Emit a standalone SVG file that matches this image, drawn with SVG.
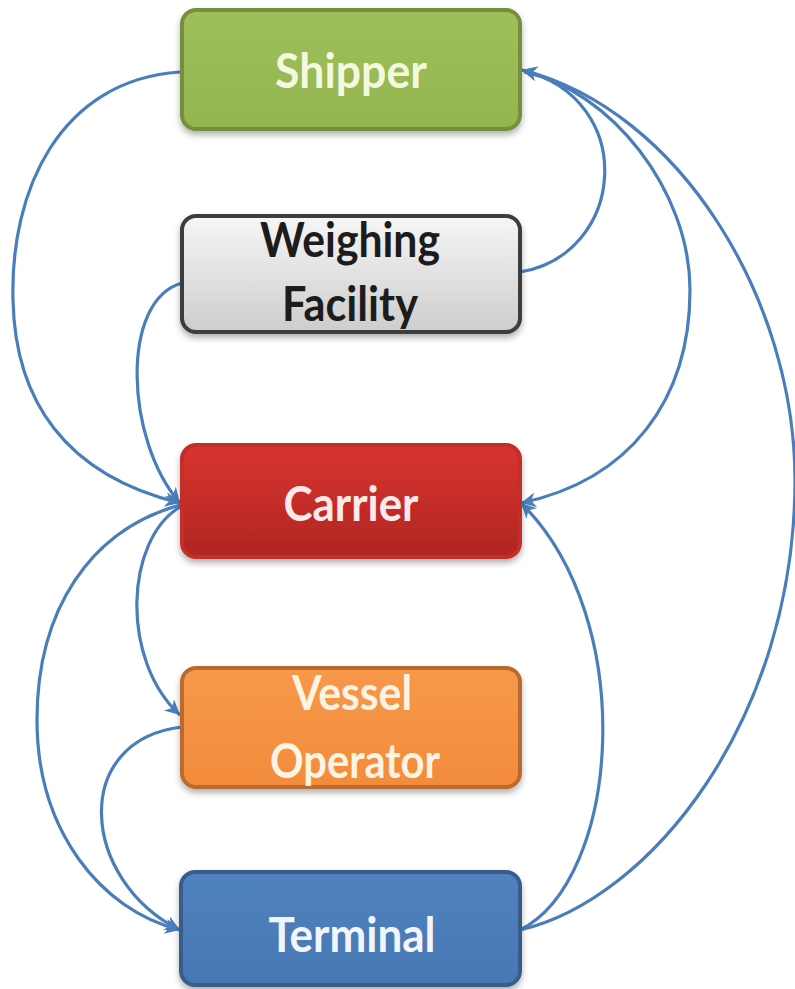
<svg xmlns="http://www.w3.org/2000/svg" width="795" height="989" viewBox="0 0 795 989">
<defs>
<linearGradient id="gGray" x1="0" y1="0" x2="0" y2="1"><stop offset="0" stop-color="#f6f6f6"/><stop offset="1" stop-color="#cdcdcd"/></linearGradient>
<linearGradient id="gRed" x1="0" y1="0" x2="0" y2="1"><stop offset="0" stop-color="#d9342f"/><stop offset="1" stop-color="#b02622"/></linearGradient>
<linearGradient id="gGreen" x1="0" y1="0" x2="0" y2="1"><stop offset="0" stop-color="#9fbf5b"/><stop offset="1" stop-color="#93b54f"/></linearGradient>
<linearGradient id="gOrange" x1="0" y1="0" x2="0" y2="1"><stop offset="0" stop-color="#f8984a"/><stop offset="1" stop-color="#f28c3c"/></linearGradient>
<linearGradient id="gBlue" x1="0" y1="0" x2="0" y2="1"><stop offset="0" stop-color="#4f82bf"/><stop offset="1" stop-color="#4878b3"/></linearGradient>
<filter id="sh" x="-10%" y="-10%" width="120%" height="130%"><feDropShadow dx="0" dy="4" stdDeviation="3" flood-color="#000" flood-opacity="0.3"/></filter>
<marker id="ah" viewBox="0 0 10 10" refX="10" refY="5" markerUnits="userSpaceOnUse" markerWidth="18" markerHeight="15" orient="auto"><path d="M0,0 L10,5 L0,10 L3,5 z" fill="#4a7ebb"/></marker>
</defs>
<style>
.box{stroke-width:4;filter:url(#sh)}
.lbl{font-family:Lato,"Liberation Sans",sans-serif;font-weight:bold;font-size:48px;text-anchor:middle}
.c{fill:none;stroke:#4a7ebb;stroke-width:3.2;marker-end:url(#ah)}
</style>
<g id="connectors">
<path class="c" d="M180,72 C60,80 10,190 13,300 C15,400 65,475 180,503"/>
<path class="c" d="M182,283 C120,300 125,440 180,503"/>
<path class="c" d="M520,272 C625,255 640,100 522,70"/>
<path class="c" d="M524,72 C610,90 690,190 690,290 C690,400 630,480 521,503"/>
<path class="c" d="M520,930 C650,900 795,720 795,480 C795,300 680,110 522,70"/>
<path class="c" d="M520,930 C620,880 640,620 521,503"/>
<path class="c" d="M180,507 C125,540 120,660 180,715"/>
<path class="c" d="M180,505 C90,530 37,610 37,720 C37,830 100,910 180,930"/>
<path class="c" d="M182,727 C70,740 80,880 180,930"/>
</g>
<g id="shipper">
<rect class="box" x="182" y="10" width="338" height="119" rx="14" fill="url(#gGreen)" stroke="#74903e"/>
<text class="lbl" x="351" y="88" fill="#f3f8df" textLength="152" lengthAdjust="spacingAndGlyphs">Shipper</text>
</g>
<g id="weighing">
<rect class="box" x="182" y="216" width="338" height="116" rx="14" fill="url(#gGray)" stroke="#3c3c3c"/>
<text class="lbl" x="350" y="257" fill="#1c1c1c" textLength="180" lengthAdjust="spacingAndGlyphs">Weighing</text>
<text class="lbl" x="350" y="321" fill="#1c1c1c" textLength="136" lengthAdjust="spacingAndGlyphs">Facility</text>
</g>
<g id="carrier">
<rect class="box" x="182" y="445" width="338" height="112" rx="14" fill="url(#gRed)" stroke="#c22e2a" stroke-width="2"/>
<text class="lbl" x="351" y="521" fill="#fbeaea" textLength="135" lengthAdjust="spacingAndGlyphs">Carrier</text>
</g>
<g id="vessel">
<rect class="box" x="182" y="668" width="338" height="119" rx="14" fill="url(#gOrange)" stroke="#b96b2d"/>
<text class="lbl" x="352" y="710" fill="#fff4e4" textLength="120" lengthAdjust="spacingAndGlyphs">Vessel</text>
<text class="lbl" x="355" y="778" fill="#fff4e4" textLength="170" lengthAdjust="spacingAndGlyphs">Operator</text>
</g>
<g id="terminal">
<rect class="box" x="181" y="872" width="339" height="113" rx="14" fill="url(#gBlue)" stroke="#385d8a"/>
<text class="lbl" x="352" y="952" fill="#f2f6fc" textLength="167" lengthAdjust="spacingAndGlyphs">Terminal</text>
</g>
</svg>
